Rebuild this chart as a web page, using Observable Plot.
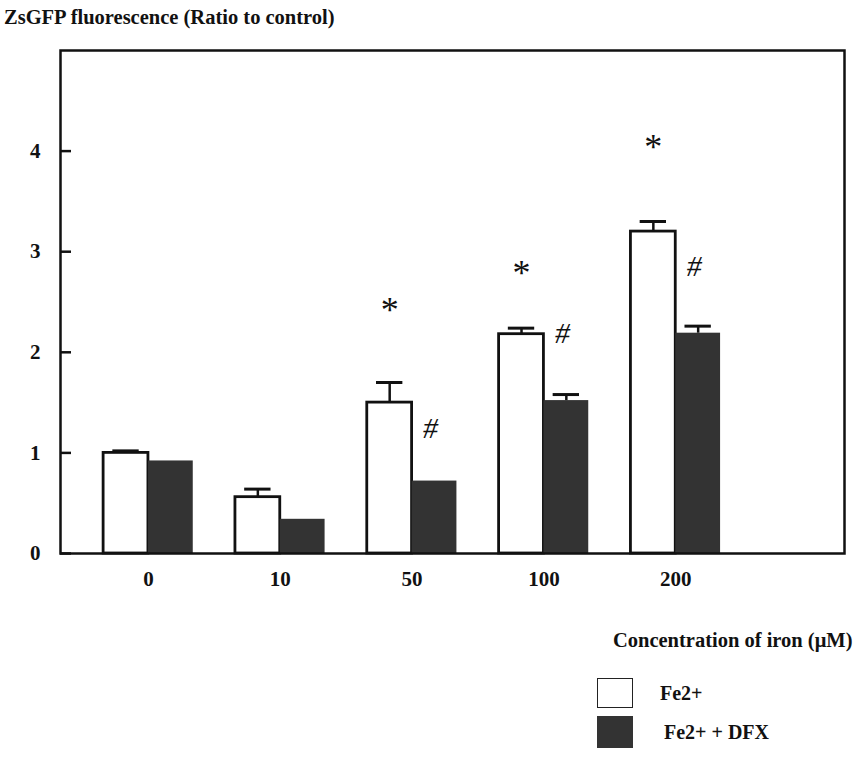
<!DOCTYPE html>
<html>
<head>
<meta charset="utf-8">
<script src="https://cdn.jsdelivr.net/npm/d3@7"></script>
<script src="https://cdn.jsdelivr.net/npm/@observablehq/plot@0.6"></script>
<style>
  html, body { margin: 0; padding: 0; background: #fff; }
  body { width: 859px; height: 762px; position: relative; overflow: hidden;
         font-family: "Liberation Serif", "Times New Roman", serif; font-weight: bold; color: #111; }
  #title { position: absolute; left: 4px; top: 6px; font-size: 20.5px; white-space: nowrap; }
  #chart { position: absolute; left: 0; top: 36px; }
  .leg { position: absolute; display: flex; align-items: center; font-size: 20px; }
  .sw { width: 36px; height: 30px; box-sizing: border-box; margin-right: 27px; }
</style>
</head>
<body>
<div id="title">ZsGFP fluorescence (Ratio to control)</div>
<div id="chart"></div>
<div class="leg" style="left:597px; top:678px;"><div class="sw" style="border:1.5px solid #222; background:#fff;"></div><span>Fe2+</span></div>
<div class="leg" style="left:597px; top:716px;"><div class="sw" style="background:#333; height:32px; margin-right:31px;"></div><span>Fe2+ + DFX</span></div>
<script>
// ---- data ----
const categories = ["0", "10", "50", "100", "200"];
const fe      = [1.00, 0.56, 1.50, 2.18, 3.20];
const feErr   = [0.02, 0.08, 0.20, 0.06, 0.10];
const dfx     = [0.92, 0.34, 0.72, 1.52, 2.19];
const dfxErr  = [0.00, 0.00, 0.00, 0.06, 0.07];
const yTicks  = [0, 1, 2, 3, 4];
const starIdx = [2, 3, 4];          // "*" over Fe2+ bars
const starY   = [2.50, 2.86, 4.12];
const hashIdx = [2, 3, 4];          // "#" over Fe2+ + DFX bars
const hashY   = [1.24, 2.19, 2.85];
const xLabel  = "Concentration of iron (μM)";

const W = 0.34; // bar width in category units
const bars = [];
categories.forEach((c, i) => {
  bars.push({i, series: "Fe2+", x1: i - W, x2: i, v: fe[i], e: feErr[i]});
  bars.push({i, series: "Fe2+ + DFX", x1: i, x2: i + W, v: dfx[i], e: dfxErr[i]});
});
bars.forEach(d => { d.c = (d.x1 + d.x2) / 2; });
const errBars = bars.filter(d => d.e > 0);
const stars = starIdx.map((i, k) => ({x: i - W / 2, y: starY[k]}));
const hashes = hashIdx.map((i, k) => ({x: i + W / 2 - 0.03, y: hashY[k]}));

const font = '"Liberation Serif", "Times New Roman", serif';

const plot = Plot.plot({
  width: 859,
  height: 624,
  marginLeft: 60,
  marginRight: 15,
  marginTop: 14,
  marginBottom: 107,
  style: {fontFamily: font, fontWeight: "bold", fontSize: "21px", color: "#111", background: "#fff"},
  x: {type: "linear", domain: [-0.667, 5.28]},
  y: {domain: [0, 5]},
  marks: [
    Plot.rect(bars.filter(d => d.series === "Fe2+"), {x1: "x1", x2: "x2", y1: 0, y2: "v", fill: "white", stroke: "#111", strokeWidth: 2.8}),
    Plot.rect(bars.filter(d => d.series !== "Fe2+"), {x1: "x1", x2: "x2", y1: 0, y2: "v", fill: "#333"}),
    Plot.ruleX(errBars, {x: "c", y1: "v", y2: d => d.v + d.e, stroke: "#111", strokeWidth: 2.5}),
    Plot.ruleY(errBars, {y: d => d.v + d.e, x1: d => d.c - 0.1, x2: d => d.c + 0.1, stroke: "#111", strokeWidth: 3}),
    Plot.text(stars, {x: "x", y: "y", text: () => "*", fontSize: 36, fontWeight: "normal", dy: 8, fill: "#111"}),
    Plot.text(hashes, {x: "x", y: "y", text: () => "#", fontSize: 30, fontWeight: "normal", fontStyle: "italic", fill: "#111"}),
    Plot.axisY({ticks: yTicks, tickSize: 0, tickPadding: 20, label: null, tickFormat: d => String(d)}),
    Plot.axisY({ticks: yTicks, tickSize: 11, dx: 11, tickFormat: () => "", label: null, strokeWidth: 2.5}),
    Plot.axisX({ticks: [0, 1, 2, 3, 4], tickSize: 0, tickPadding: 18, label: null, tickFormat: i => categories[i]}),
    Plot.text([xLabel], {frameAnchor: "bottom-right", dx: 8, dy: 87, textAnchor: "end", lineAnchor: "middle", fontSize: 20.5, fill: "#111"}),
    Plot.frame({stroke: "#111", strokeWidth: 2.5})
  ]
});
document.getElementById("chart").appendChild(plot);
</script>
</body>
</html>
